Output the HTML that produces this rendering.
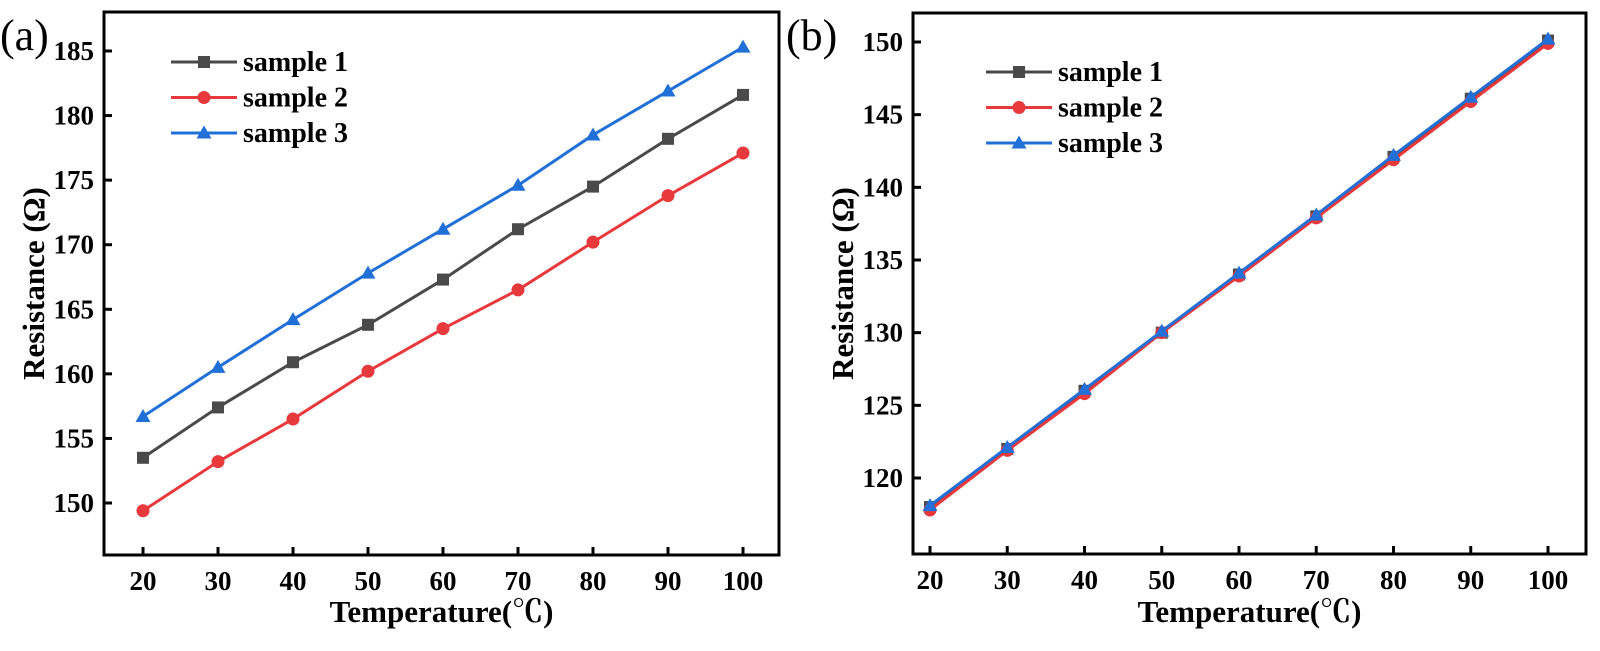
<!DOCTYPE html>
<html><head><meta charset="utf-8"><style>
html,body{margin:0;padding:0;background:#fff;}
svg text{font-family:"Liberation Serif","Noto Serif CJK SC",serif;}
</style></head><body>
<svg id="chart" width="1600" height="646" xmlns="http://www.w3.org/2000/svg"></svg>
<script>
const temps = [20,30,40,50,60,70,80,90,100];
const aSample1 = [153.5,157.4,160.9,163.8,167.3,171.2,174.5,178.2,181.6];
const aSample2 = [149.4,153.2,156.5,160.2,163.5,166.5,170.2,173.8,177.1];
const aSample3 = [156.7,160.5,164.2,167.8,171.2,174.6,178.5,181.9,185.3];
const bSample1 = [118.0,122.0,126.0,130.0,134.0,138.0,142.1,146.1,150.1];
const bSample2 = [117.8,121.9,125.8,130.0,133.9,137.9,141.9,145.9,149.9];
const bSample3 = [118.1,122.1,126.1,130.1,134.1,138.1,142.2,146.2,150.2];
const aYTicks = [150,155,160,165,170,175,180,185];
const bYTicks = [120,125,130,135,140,145,150];
const seriesNames = ["sample 1","sample 2","sample 3"];

const NS="http://www.w3.org/2000/svg";
const svg=document.getElementById('chart');
function mk(tag,attrs,parent){const e=document.createElementNS(NS,tag);for(const k in attrs)e.setAttribute(k,attrs[k]);(parent||svg).appendChild(e);return e;}
const colors=["#4a4a4a","#e8393c","#2170d8"];

function panel(p){
  const g=mk('g',{});
  
  
  const xs=v=>p.x20+(v-20)*(p.x100-p.x20)/80;
  const ys=v=>p.yA+(v-p.vA)*(p.yB-p.yA)/(p.vB-p.vA);
  const box=mk('rect',{x:p.L,y:p.T,width:p.R-p.L,height:p.B-p.T,fill:'none',stroke:'#000','stroke-width':3},g);
  
  
  temps.forEach(t=>{
    const x=xs(t);
    const tk=mk('line',{x1:x,x2:x,y1:p.B,y2:p.B-8,stroke:'#000','stroke-width':3},g);
    
    
    const tl=mk('text',{x:x,y:p.B+35,'text-anchor':'middle','font-size':27,'font-weight':'bold'},g);
    tl.textContent=t;
    
    
  });
  p.yTicks.forEach(v=>{
    const y=ys(v);
    const tk=mk('line',{x1:p.L,x2:p.L+8,y1:y,y2:y,stroke:'#000','stroke-width':3},g);
    
    
    const tl=mk('text',{x:p.L-10,y:y+9,'text-anchor':'end','font-size':27,'font-weight':'bold'},g);
    tl.textContent=v;
    
    
  });
  const xt=mk('text',{x:(p.L+p.R)/2,y:622,'text-anchor':'middle','font-size':31,'font-weight':'bold'},g);
  xt.textContent='Temperature(℃)';
  
  
  const yt=mk('text',{x:0,y:0,'text-anchor':'middle','font-size':31,'font-weight':'bold',transform:`translate(${p.L-60},${(p.T+p.B)/2}) rotate(-90)`},g);
  yt.textContent='Resistance (Ω)';
  
  
  const pl=mk('text',{x:p.lx,y:50,'font-size':44},g);
  pl.textContent=p.label;
  
  
  p.series.forEach((s,i)=>{
    const pts=temps.map((t,j)=>xs(t)+','+ys(s[j])).join(' ');
    const ln=mk('polyline',{points:pts,fill:'none',stroke:colors[i],'stroke-width':3},g);
    
    
    temps.forEach((t,j)=>marker(g,i,xs(t),ys(s[j]),'data-point'));
    const ly=p.legY+i*35.5;
    const ll=mk('line',{x1:p.legX,x2:p.legX+66,y1:ly,y2:ly,stroke:colors[i],'stroke-width':3},g);
    
    
    marker(g,i,p.legX+33,ly,'legend-marker');
    const lt=mk('text',{x:p.legX+72,y:ly+9,'font-size':28,'font-weight':'bold'},g);
    lt.textContent=seriesNames[i];
    
    
  });
}
function marker(g,i,x,y,name){
  let m;
  if(i===0) m=mk('rect',{x:x-6,y:y-6,width:12,height:12,fill:colors[0]},g);
  else if(i===1) m=mk('circle',{cx:x,cy:y,r:6.5,fill:colors[1]},g);
  else m=mk('polygon',{points:`${x},${y-7.5} ${x+7.5},${y+5.5} ${x-7.5},${y+5.5}`,fill:colors[2]},g);
  
  
}
panel({id:'a',L:104,R:779,T:12,B:555,x20:143,x100:743,yA:51,vA:185,yB:503,vB:150,yTicks:aYTicks,
  series:[aSample1,aSample2,aSample3],label:'(a)',lx:0,legX:171,legY:62});
panel({id:'b',L:913,R:1586,T:13,B:554,x20:930,x100:1548,yA:42,vA:150,yB:478,vB:120,yTicks:bYTicks,
  series:[bSample1,bSample2,bSample3],label:'(b)',lx:786,legX:986,legY:72});
</script>
</body></html>
